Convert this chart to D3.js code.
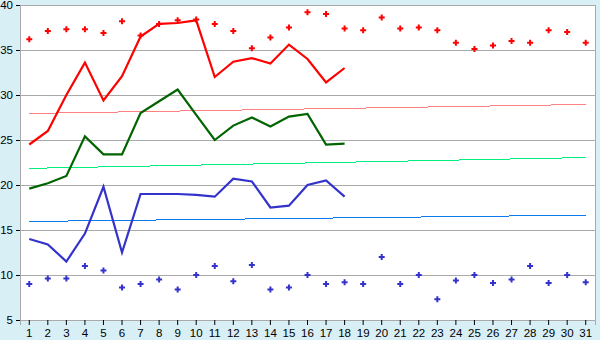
<!DOCTYPE html>
<html>
<head>
<meta charset="utf-8">
<script src="https://cdn.jsdelivr.net/npm/d3@7"></script>
<style>
  body { margin: 0; background: #d9eff6; }
  svg { display: block; font-family: "Liberation Sans", Arial, sans-serif; }
</style>
</head>
<body>
<svg id="chart" width="600" height="340"></svg>
<script>
"use strict"
// Daily series, days 1..31

var days = d3.range(1, 32),
    yTicks = [5, 10, 15, 20, 25, 30, 35, 40],
    // red: daily line (days 1-18) and red points
    redLine = [24.5, 26.0, 30.0, 33.6, 29.4, 32.1, 36.5, 37.9, 38.0, 38.3,
               32.0, 33.7, 34.1, 33.5, 35.6, 34.0, 31.4, 33.0],
    redDots = [36.2, 37.1, 37.3, 37.3, 36.9, 38.2, 36.6, 37.9, 38.3, 38.4,
               37.9, 37.1, 35.2, 36.4, 37.5, 39.2, 39.0, 37.4, 37.2, 38.6,
               37.4, 37.5, 37.2, 35.8, 35.1, 35.5, 36.0, 35.8, 37.2, 37.0, 35.8],
    greenLine = [19.6, 20.2, 21.0, 25.4, 23.4, 23.4, 28.0, 29.3, 30.6, 27.8,
                 25.0, 26.6, 27.5, 26.5, 27.6, 27.9, 24.5, 24.6],
    blueLine = [14.0, 13.4, 11.5, 14.6, 19.8, 12.5, 19.0, 19.0, 19.0, 18.9,
                18.7, 20.7, 20.4, 17.5, 17.7, 20.0, 20.5, 18.7],
    blueDots = [9.0, 9.6, 9.6, 11.0, 10.5, 8.6, 9.0, 9.5, 8.4, 10.0,
                11.0, 9.3, 11.1, 8.4, 8.6, 10.0, 9.0, 9.2, 9.0, 12.0,
                9.0, 10.0, 7.3, 9.4, 10.0, 9.1, 9.5, 11.0, 9.1, 10.0, 9.2],
    // trend lines: value on day 1 and day 31
    redTrend = [27.95, 28.95],
    greenTrend = [21.85, 23.05],
    blueTrend = [15.95, 16.65];

var svg = d3.select("svg#chart"),
    margin = {top: 5, right: 5, bottom: 20, left: 20},
    width = +svg.attr("width") - margin.left - margin.right,
    height = +svg.attr("height") - margin.top - margin.bottom;

var x = d3.scaleBand().domain(days).range([0, width]),
    y = d3.scaleLinear().domain([5, 40]).range([height, 0]),
    cx = function(d) { return x(d) + x.bandwidth() / 2; };

var g = svg.append("g").attr("transform", "translate(" + margin.left + "," + margin.top + ")");

// plot background
g.append("rect").attr("width", width).attr("height", height).attr("fill", "#fff");

// horizontal grid
g.append("g")
  .selectAll("line")
  .data(yTicks)
  .enter().append("line")
    .attr("x1", 0).attr("x2", width)
    .attr("y1", function(d) { return Math.round(y(d)) + 0.5; })
    .attr("y2", function(d) { return Math.round(y(d)) + 0.5; })
    .attr("stroke", "#aaa");

// right border
g.append("line")
  .attr("x1", width + 0.5).attr("x2", width + 0.5)
  .attr("y1", 0).attr("y2", height)
  .attr("stroke", "#aaa");

// axes
var yAxis = g.append("g")
  .call(d3.axisLeft(y).tickValues(yTicks).tickSize(4).tickPadding(3));
var xAxis = g.append("g")
  .attr("transform", "translate(0," + height + ")")
  .call(d3.axisBottom(x).tickSize(5).tickPadding(4));
[yAxis, xAxis].forEach(function(a) {
  a.select(".domain").attr("stroke", "#aaa");
  a.selectAll(".tick line").attr("stroke", "#000");
  a.selectAll("text").attr("font-size", 11.5).attr("fill", "#000")
    .attr("font-family", "\"Liberation Sans\", Arial, sans-serif");
});

// trend lines
function trend(vals, color) {
  g.append("line")
    .attr("x1", cx(days[0])).attr("x2", cx(days[days.length - 1]))
    .attr("y1", y(vals[0])).attr("y2", y(vals[1]))
    .attr("stroke", color).attr("stroke-width", 1)
    .attr("shape-rendering", "crispEdges");
}
trend(redTrend, "#ff8080");
trend(greenTrend, "#00f080");
trend(blueTrend, "#0a7cf0");

// daily lines
var line = d3.line()
  .x(function(d, i) { return cx(days[i]); })
  .y(function(d) { return y(d); });

function series(vals, color) {
  g.append("path")
    .datum(vals)
    .attr("d", line)
    .attr("fill", "none")
    .attr("stroke", color)
    .attr("stroke-width", 2.2);
}
series(redLine, "#ff0000");
series(greenLine, "#006400");
series(blueLine, "#3333cc");

// point markers
var cross = d3.symbol().type(d3.symbolCross).size(20);
function dots(vals, color) {
  g.append("g")
    .selectAll("path")
    .data(vals)
    .enter().append("path")
      .attr("transform", function(d, i) { return "translate(" + cx(days[i]) + "," + y(d) + ")"; })
      .attr("d", cross)
      .attr("fill", color);
}
dots(redDots, "#ff0000");
dots(blueDots, "#3333cc");
</script>
</body>
</html>
